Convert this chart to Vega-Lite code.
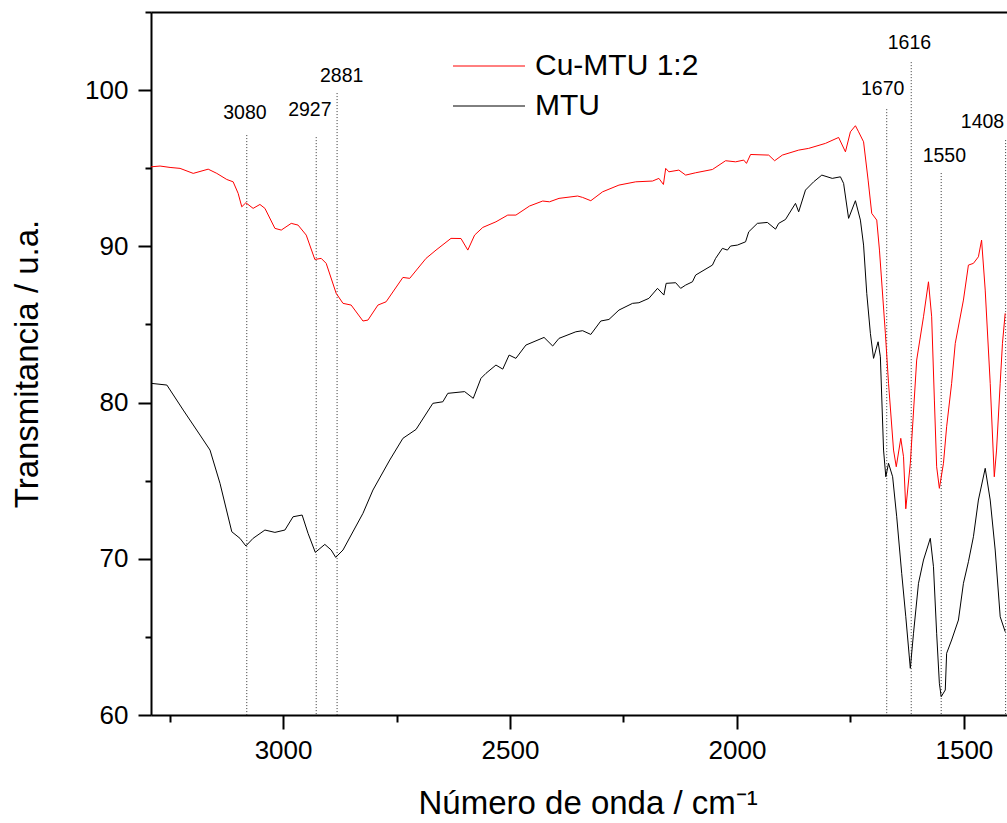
{
  "$schema": "https://vega.github.io/schema/vega-lite/v6.json",
  "width": 856,
  "height": 703,
  "autosize": {"type": "none"},
  "padding": {"left": 151, "top": 12, "right": 0, "bottom": 108},
  "background": "white",
  "config": {"view": {"stroke": null}, "font": "Liberation Sans"},
  "datasets": {
    "spectra": [
      {"sample":"Cu-MTU 1:2","wn":3291,"T":95.09},{"sample":"Cu-MTU 1:2","wn":3271,"T":95.14},{"sample":"Cu-MTU 1:2","wn":3249,"T":95.05},{"sample":"Cu-MTU 1:2","wn":3227,"T":94.99},{"sample":"Cu-MTU 1:2","wn":3198,"T":94.67},{"sample":"Cu-MTU 1:2","wn":3165,"T":94.94},{"sample":"Cu-MTU 1:2","wn":3146,"T":94.67},{"sample":"Cu-MTU 1:2","wn":3124,"T":94.28},{"sample":"Cu-MTU 1:2","wn":3110,"T":94.13},{"sample":"Cu-MTU 1:2","wn":3099,"T":93.39},{"sample":"Cu-MTU 1:2","wn":3091,"T":92.53},{"sample":"Cu-MTU 1:2","wn":3082,"T":92.79},{"sample":"Cu-MTU 1:2","wn":3066,"T":92.43},{"sample":"Cu-MTU 1:2","wn":3051,"T":92.68},{"sample":"Cu-MTU 1:2","wn":3040,"T":92.43},{"sample":"Cu-MTU 1:2","wn":3018,"T":91.15},{"sample":"Cu-MTU 1:2","wn":3004,"T":91.04},{"sample":"Cu-MTU 1:2","wn":2982,"T":91.47},{"sample":"Cu-MTU 1:2","wn":2967,"T":91.36},{"sample":"Cu-MTU 1:2","wn":2949,"T":90.72},{"sample":"Cu-MTU 1:2","wn":2930,"T":89.16},{"sample":"Cu-MTU 1:2","wn":2916,"T":89.23},{"sample":"Cu-MTU 1:2","wn":2905,"T":88.91},{"sample":"Cu-MTU 1:2","wn":2883,"T":86.99},{"sample":"Cu-MTU 1:2","wn":2868,"T":86.35},{"sample":"Cu-MTU 1:2","wn":2850,"T":86.24},{"sample":"Cu-MTU 1:2","wn":2824,"T":85.22},{"sample":"Cu-MTU 1:2","wn":2813,"T":85.28},{"sample":"Cu-MTU 1:2","wn":2791,"T":86.24},{"sample":"Cu-MTU 1:2","wn":2773,"T":86.45},{"sample":"Cu-MTU 1:2","wn":2736,"T":88.01},{"sample":"Cu-MTU 1:2","wn":2721,"T":87.95},{"sample":"Cu-MTU 1:2","wn":2685,"T":89.23},{"sample":"Cu-MTU 1:2","wn":2663,"T":89.76},{"sample":"Cu-MTU 1:2","wn":2630,"T":90.51},{"sample":"Cu-MTU 1:2","wn":2608,"T":90.5},{"sample":"Cu-MTU 1:2","wn":2593,"T":89.76},{"sample":"Cu-MTU 1:2","wn":2578,"T":90.72},{"sample":"Cu-MTU 1:2","wn":2560,"T":91.21},{"sample":"Cu-MTU 1:2","wn":2531,"T":91.57},{"sample":"Cu-MTU 1:2","wn":2505,"T":92.0},{"sample":"Cu-MTU 1:2","wn":2487,"T":92.0},{"sample":"Cu-MTU 1:2","wn":2457,"T":92.58},{"sample":"Cu-MTU 1:2","wn":2428,"T":92.9},{"sample":"Cu-MTU 1:2","wn":2413,"T":92.85},{"sample":"Cu-MTU 1:2","wn":2392,"T":93.07},{"sample":"Cu-MTU 1:2","wn":2351,"T":93.22},{"sample":"Cu-MTU 1:2","wn":2340,"T":93.13},{"sample":"Cu-MTU 1:2","wn":2322,"T":92.92},{"sample":"Cu-MTU 1:2","wn":2296,"T":93.49},{"sample":"Cu-MTU 1:2","wn":2260,"T":93.92},{"sample":"Cu-MTU 1:2","wn":2223,"T":94.13},{"sample":"Cu-MTU 1:2","wn":2186,"T":94.18},{"sample":"Cu-MTU 1:2","wn":2172,"T":94.35},{"sample":"Cu-MTU 1:2","wn":2162,"T":93.96},{"sample":"Cu-MTU 1:2","wn":2157,"T":94.99},{"sample":"Cu-MTU 1:2","wn":2150,"T":94.77},{"sample":"Cu-MTU 1:2","wn":2128,"T":94.88},{"sample":"Cu-MTU 1:2","wn":2113,"T":94.56},{"sample":"Cu-MTU 1:2","wn":2091,"T":94.71},{"sample":"Cu-MTU 1:2","wn":2054,"T":94.92},{"sample":"Cu-MTU 1:2","wn":2025,"T":95.48},{"sample":"Cu-MTU 1:2","wn":2003,"T":95.41},{"sample":"Cu-MTU 1:2","wn":1985,"T":95.52},{"sample":"Cu-MTU 1:2","wn":1979,"T":95.31},{"sample":"Cu-MTU 1:2","wn":1970,"T":95.88},{"sample":"Cu-MTU 1:2","wn":1930,"T":95.84},{"sample":"Cu-MTU 1:2","wn":1917,"T":95.48},{"sample":"Cu-MTU 1:2","wn":1900,"T":95.84},{"sample":"Cu-MTU 1:2","wn":1864,"T":96.16},{"sample":"Cu-MTU 1:2","wn":1842,"T":96.27},{"sample":"Cu-MTU 1:2","wn":1805,"T":96.59},{"sample":"Cu-MTU 1:2","wn":1776,"T":96.97},{"sample":"Cu-MTU 1:2","wn":1761,"T":96.05},{"sample":"Cu-MTU 1:2","wn":1750,"T":97.33},{"sample":"Cu-MTU 1:2","wn":1739,"T":97.72},{"sample":"Cu-MTU 1:2","wn":1732,"T":97.33},{"sample":"Cu-MTU 1:2","wn":1721,"T":96.69},{"sample":"Cu-MTU 1:2","wn":1711,"T":94.24},{"sample":"Cu-MTU 1:2","wn":1703,"T":92.11},{"sample":"Cu-MTU 1:2","wn":1692,"T":91.68},{"sample":"Cu-MTU 1:2","wn":1686,"T":89.76},{"sample":"Cu-MTU 1:2","wn":1673,"T":84.43},{"sample":"Cu-MTU 1:2","wn":1666,"T":81.23},{"sample":"Cu-MTU 1:2","wn":1655,"T":76.96},{"sample":"Cu-MTU 1:2","wn":1649,"T":75.89},{"sample":"Cu-MTU 1:2","wn":1639,"T":77.71},{"sample":"Cu-MTU 1:2","wn":1633,"T":76.53},{"sample":"Cu-MTU 1:2","wn":1628,"T":73.2},{"sample":"Cu-MTU 1:2","wn":1618,"T":76.11},{"sample":"Cu-MTU 1:2","wn":1604,"T":82.72},{"sample":"Cu-MTU 1:2","wn":1589,"T":85.49},{"sample":"Cu-MTU 1:2","wn":1578,"T":87.73},{"sample":"Cu-MTU 1:2","wn":1571,"T":85.49},{"sample":"Cu-MTU 1:2","wn":1565,"T":80.16},{"sample":"Cu-MTU 1:2","wn":1560,"T":75.89},{"sample":"Cu-MTU 1:2","wn":1554,"T":74.51},{"sample":"Cu-MTU 1:2","wn":1545,"T":76.11},{"sample":"Cu-MTU 1:2","wn":1538,"T":78.45},{"sample":"Cu-MTU 1:2","wn":1527,"T":81.23},{"sample":"Cu-MTU 1:2","wn":1519,"T":83.79},{"sample":"Cu-MTU 1:2","wn":1501,"T":86.56},{"sample":"Cu-MTU 1:2","wn":1490,"T":88.8},{"sample":"Cu-MTU 1:2","wn":1479,"T":88.91},{"sample":"Cu-MTU 1:2","wn":1468,"T":89.33},{"sample":"Cu-MTU 1:2","wn":1461,"T":90.4},{"sample":"Cu-MTU 1:2","wn":1453,"T":87.2},{"sample":"Cu-MTU 1:2","wn":1442,"T":81.23},{"sample":"Cu-MTU 1:2","wn":1433,"T":75.25},{"sample":"Cu-MTU 1:2","wn":1428,"T":76.96},{"sample":"Cu-MTU 1:2","wn":1420,"T":81.23},{"sample":"Cu-MTU 1:2","wn":1415,"T":83.79},{"sample":"Cu-MTU 1:2","wn":1409,"T":85.71},
      {"sample":"MTU","wn":3291,"T":81.23},{"sample":"MTU","wn":3256,"T":81.12},{"sample":"MTU","wn":3220,"T":79.52},{"sample":"MTU","wn":3183,"T":77.92},{"sample":"MTU","wn":3161,"T":76.96},{"sample":"MTU","wn":3139,"T":74.83},{"sample":"MTU","wn":3113,"T":71.73},{"sample":"MTU","wn":3095,"T":71.31},{"sample":"MTU","wn":3082,"T":70.82},{"sample":"MTU","wn":3066,"T":71.31},{"sample":"MTU","wn":3040,"T":71.84},{"sample":"MTU","wn":3018,"T":71.69},{"sample":"MTU","wn":2996,"T":71.84},{"sample":"MTU","wn":2978,"T":72.69},{"sample":"MTU","wn":2958,"T":72.8},{"sample":"MTU","wn":2945,"T":71.63},{"sample":"MTU","wn":2929,"T":70.41},{"sample":"MTU","wn":2908,"T":70.92},{"sample":"MTU","wn":2894,"T":70.56},{"sample":"MTU","wn":2884,"T":70.09},{"sample":"MTU","wn":2868,"T":70.56},{"sample":"MTU","wn":2824,"T":72.91},{"sample":"MTU","wn":2802,"T":74.4},{"sample":"MTU","wn":2765,"T":76.32},{"sample":"MTU","wn":2736,"T":77.71},{"sample":"MTU","wn":2707,"T":78.28},{"sample":"MTU","wn":2670,"T":79.95},{"sample":"MTU","wn":2648,"T":80.05},{"sample":"MTU","wn":2637,"T":80.59},{"sample":"MTU","wn":2600,"T":80.7},{"sample":"MTU","wn":2581,"T":80.27},{"sample":"MTU","wn":2564,"T":81.55},{"sample":"MTU","wn":2553,"T":81.87},{"sample":"MTU","wn":2531,"T":82.4},{"sample":"MTU","wn":2516,"T":82.14},{"sample":"MTU","wn":2502,"T":83.04},{"sample":"MTU","wn":2487,"T":82.83},{"sample":"MTU","wn":2465,"T":83.68},{"sample":"MTU","wn":2425,"T":84.17},{"sample":"MTU","wn":2406,"T":83.62},{"sample":"MTU","wn":2392,"T":84.11},{"sample":"MTU","wn":2355,"T":84.53},{"sample":"MTU","wn":2340,"T":84.6},{"sample":"MTU","wn":2322,"T":84.36},{"sample":"MTU","wn":2300,"T":85.22},{"sample":"MTU","wn":2282,"T":85.32},{"sample":"MTU","wn":2260,"T":85.92},{"sample":"MTU","wn":2230,"T":86.35},{"sample":"MTU","wn":2216,"T":86.39},{"sample":"MTU","wn":2194,"T":86.67},{"sample":"MTU","wn":2175,"T":87.31},{"sample":"MTU","wn":2161,"T":86.88},{"sample":"MTU","wn":2156,"T":87.63},{"sample":"MTU","wn":2135,"T":87.67},{"sample":"MTU","wn":2124,"T":87.31},{"sample":"MTU","wn":2113,"T":87.52},{"sample":"MTU","wn":2098,"T":87.73},{"sample":"MTU","wn":2091,"T":88.16},{"sample":"MTU","wn":2054,"T":88.8},{"sample":"MTU","wn":2047,"T":89.23},{"sample":"MTU","wn":2032,"T":89.87},{"sample":"MTU","wn":2021,"T":89.76},{"sample":"MTU","wn":2014,"T":90.02},{"sample":"MTU","wn":1999,"T":90.08},{"sample":"MTU","wn":1981,"T":90.29},{"sample":"MTU","wn":1974,"T":90.93},{"sample":"MTU","wn":1955,"T":91.47},{"sample":"MTU","wn":1933,"T":91.53},{"sample":"MTU","wn":1915,"T":91.1},{"sample":"MTU","wn":1908,"T":91.47},{"sample":"MTU","wn":1893,"T":91.72},{"sample":"MTU","wn":1871,"T":92.75},{"sample":"MTU","wn":1864,"T":92.21},{"sample":"MTU","wn":1849,"T":93.6},{"sample":"MTU","wn":1831,"T":94.13},{"sample":"MTU","wn":1813,"T":94.56},{"sample":"MTU","wn":1790,"T":94.35},{"sample":"MTU","wn":1772,"T":94.45},{"sample":"MTU","wn":1765,"T":94.03},{"sample":"MTU","wn":1754,"T":91.79},{"sample":"MTU","wn":1739,"T":92.92},{"sample":"MTU","wn":1728,"T":91.68},{"sample":"MTU","wn":1721,"T":90.08},{"sample":"MTU","wn":1714,"T":86.99},{"sample":"MTU","wn":1706,"T":84.43},{"sample":"MTU","wn":1699,"T":82.83},{"sample":"MTU","wn":1689,"T":83.89},{"sample":"MTU","wn":1684,"T":82.93},{"sample":"MTU","wn":1677,"T":76.96},{"sample":"MTU","wn":1672,"T":75.25},{"sample":"MTU","wn":1666,"T":76.11},{"sample":"MTU","wn":1657,"T":75.25},{"sample":"MTU","wn":1648,"T":72.69},{"sample":"MTU","wn":1637,"T":69.07},{"sample":"MTU","wn":1628,"T":66.29},{"sample":"MTU","wn":1618,"T":62.99},{"sample":"MTU","wn":1611,"T":65.23},{"sample":"MTU","wn":1600,"T":68.43},{"sample":"MTU","wn":1589,"T":69.92},{"sample":"MTU","wn":1574,"T":71.31},{"sample":"MTU","wn":1567,"T":69.49},{"sample":"MTU","wn":1560,"T":65.23},{"sample":"MTU","wn":1554,"T":62.03},{"sample":"MTU","wn":1550,"T":61.17},{"sample":"MTU","wn":1541,"T":61.6},{"sample":"MTU","wn":1538,"T":63.95},{"sample":"MTU","wn":1527,"T":64.8},{"sample":"MTU","wn":1512,"T":66.08},{"sample":"MTU","wn":1501,"T":68.43},{"sample":"MTU","wn":1490,"T":69.81},{"sample":"MTU","wn":1479,"T":71.41},{"sample":"MTU","wn":1468,"T":73.76},{"sample":"MTU","wn":1453,"T":75.79},{"sample":"MTU","wn":1442,"T":73.76},{"sample":"MTU","wn":1431,"T":70.56},{"sample":"MTU","wn":1420,"T":66.29},{"sample":"MTU","wn":1409,"T":65.33}
    ],
    "peaks": [
      {"wn":3080,"top":97.12,"label":"3080","lx":3084,"ly":98.53},
      {"wn":2927,"top":96.99,"label":"2927","lx":2941,"ly":98.72},
      {"wn":2881,"top":99.81,"label":"2881","lx":2871,"ly":100.9},
      {"wn":1670,"top":98.78,"label":"1670","lx":1679,"ly":100.06},
      {"wn":1616,"top":101.79,"label":"1616","lx":1620,"ly":103.0},
      {"wn":1550,"top":94.69,"label":"1550","lx":1543,"ly":95.78},
      {"wn":1408,"top":96.8,"label":"1408","lx":1459,"ly":97.95}
    ]
  },
  "layer": [
    {
      "data": {"name": "peaks"},
      "mark": {"type": "rule", "strokeDash": [1, 2], "strokeWidth": 1, "color": "#333333"},
      "encoding": {
        "x": {"field": "wn", "type": "quantitative", "scale": {"domain": [3291, 1405], "nice": false, "zero": false},
          "axis": {"orient": "top", "labels": false, "ticks": false, "grid": false, "domain": true, "domainColor": "black", "domainWidth": 2, "title": null}},
        "y": {"field": "top", "type": "quantitative", "title": "Transmitancia / u.a."},
        "y2": {"datum": 60}
      }
    },
    {
      "data": {"name": "spectra"},
      "mark": {"type": "line", "strokeWidth": 1, "clip": true},
      "encoding": {
        "x": {"field": "wn", "type": "quantitative", "scale": {"domain": [3291, 1405], "nice": false, "zero": false},
          "axis": {"orient": "bottom", "title": "Número de onda / cm⁻¹", "values": [3250, 3000, 2750, 2500, 2250, 2000, 1750, 1500], "format": "d",
            "labelExpr": "datum.value % 500 === 0 ? datum.label : ''", "grid": false,
            "domainColor": "black", "domainWidth": 2, "tickColor": "black", "tickWidth": 2,
            "tickSize": {"expr": "datum.value % 500 === 0 ? 14 : 7"},
            "labelFontSize": 26, "labelColor": "black", "labelPadding": 8, "labelFont": "Liberation Sans",
            "titleFontSize": 33, "titleFontWeight": "normal", "titleColor": "black", "titleFont": "Liberation Sans",
            "titlePadding": 24, "titleAlign": "left", "titleX": 267}},
        "y": {"field": "T", "type": "quantitative", "title": "Transmitancia / u.a.", "scale": {"domain": [60, 105], "nice": false, "zero": false},
          "axis": {"values": [60, 65, 70, 75, 80, 85, 90, 95, 100, 105], "format": "d",
            "labelExpr": "datum.value % 10 === 0 && datum.value < 105 ? datum.label : ''", "grid": false,
            "domainColor": "black", "domainWidth": 2, "tickColor": "black", "tickWidth": 2,
            "tickSize": {"expr": "datum.value % 10 === 0 ? 13 : 6"},
            "labelFontSize": 26, "labelColor": "black", "labelPadding": 10, "labelFont": "Liberation Sans",
            "titleFontSize": 33, "titleFontWeight": "normal", "titleColor": "black", "titleFont": "Liberation Sans",
            "titlePadding": 40}},
        "color": {"field": "sample", "type": "nominal",
          "scale": {"domain": ["Cu-MTU 1:2", "MTU"], "range": ["#ff0000", "#000000"]},
          "legend": {"orient": "none", "legendX": 299, "legendY": 39, "title": null, "symbolType": "M-1,0L5,0",
            "symbolSize": 576, "symbolStrokeWidth": 1, "labelFontSize": 30, "labelOffset": 55, "labelLimit": 0,
            "labelFont": "Liberation Sans", "labelColor": "black", "rowPadding": 10}}
      }
    },
    {
      "data": {"name": "peaks"},
      "mark": {"type": "text", "fontSize": 19.5, "font": "Liberation Sans", "color": "black", "baseline": "middle", "align": "center"},
      "encoding": {
        "x": {"field": "lx", "type": "quantitative", "axis": null},
        "y": {"field": "ly", "type": "quantitative", "title": "Transmitancia / u.a."},
        "text": {"field": "label"}
      }
    }
  ],
  "resolve": {"axis": {"x": "independent"}}
}
